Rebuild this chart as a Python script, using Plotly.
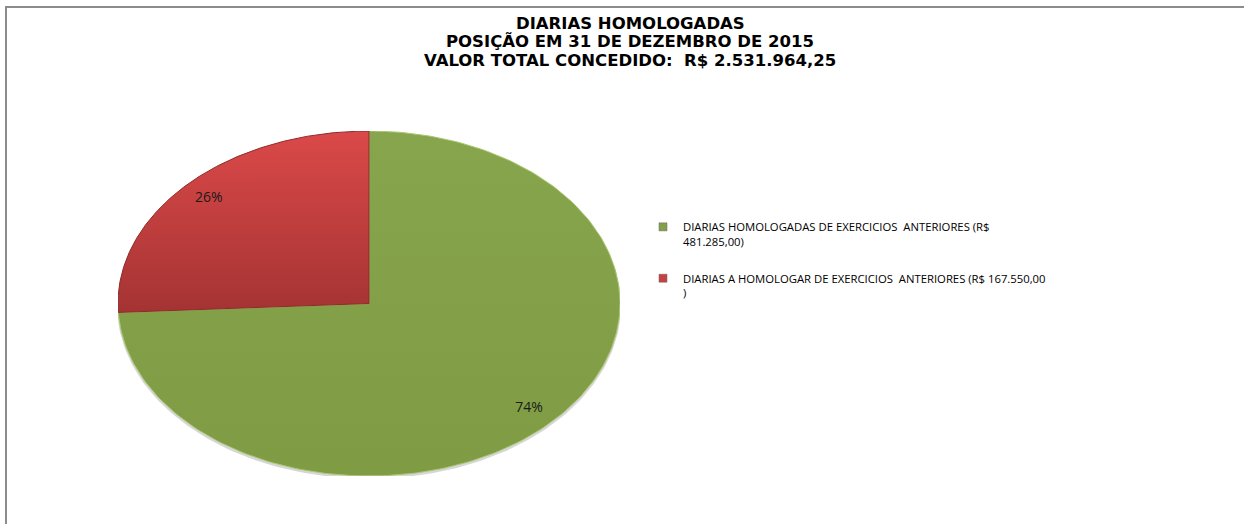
import numpy as np
import plotly.graph_objects as go

# ---- data ----
legend_labels = [
    "DIARIAS HOMOLOGADAS DE EXERCICIOS  ANTERIORES (R$<br>481.285,00)",
    "DIARIAS A HOMOLOGAR DE EXERCICIOS  ANTERIORES (R$ 167.550,00<br>)",
]
values = [481285.00, 167550.00]
colors = ["#83A149", "#C94040"]
gradients = [
    [[0, "#7F9C44"], [1, "#87A54C"]],
    [[0, "#A53333"], [1, "#DB4949"]],
]
edge_colors = ["#A9C871", "#8E2B2A"]
title_lines = [
    "DIARIAS HOMOLOGADAS",
    "POSIÇÃO EM 31 DE DEZEMBRO DE 2015",
    "VALOR TOTAL CONCEDIDO:  R$ 2.531.964,25",
]

W, H = 1244, 524
fig = go.Figure()

total = float(sum(values))
fracs = [v / total for v in values]
cum = np.concatenate([[0.0], np.cumsum(fracs)])

# soft shadow under the pie
ths = np.linspace(0, 2 * np.pi, 300)
fig.add_trace(go.Scatter(
    x=1.004 * np.cos(ths), y=1.004 * np.sin(ths) - 0.012, mode="lines", fill="toself",
    fillcolor="rgba(0,0,0,0.16)", line=dict(width=0), showlegend=False, hoverinfo="skip",
))

# slices drawn on a unit circle; axis scaling produces the elliptical look
for i, v in enumerate(values):
    t0 = np.deg2rad(90 - 360 * cum[i])
    t1 = np.deg2rad(90 - 360 * cum[i + 1])
    th = np.linspace(t0, t1, 200)
    xs = np.concatenate([[0], np.cos(th), [0]])
    ys = np.concatenate([[0], np.sin(th), [0]])
    fig.add_trace(go.Scatter(
        x=xs, y=ys, mode="lines", fill="toself",
        fillcolor=colors[i],
        fillgradient=dict(type="vertical", colorscale=gradients[i]),
        line=dict(color=edge_colors[i], width=1),
        showlegend=False, hoverinfo="skip",
    ))

# percentage labels
for i, v in enumerate(values):
    mid = np.deg2rad(90 - 360 * (cum[i] + cum[i + 1]) / 2)
    r = 0.88
    fig.add_trace(go.Scatter(
        x=[r * np.cos(mid)], y=[r * np.sin(mid)], mode="text",
        text=[f"{round(fracs[i] * 100)}%"],
        textfont=dict(family="Open Sans", size=14, color="#1a1a1a"),
        showlegend=False, hoverinfo="skip",
    ))

# legend entries
for i, lab in enumerate(legend_labels):
    fig.add_trace(go.Scatter(
        x=[None], y=[None], mode="markers", name=lab,
        marker=dict(symbol="square", size=8, color=colors[i],
                    line=dict(color="#666666", width=0.5)),
        legendgroup=f"g{i}",
    ))

# title lines
for k, (txt, py) in enumerate(zip(title_lines, [24, 42, 60.5])):
    fig.add_annotation(
        x=630 / W, y=1 - py / H, xref="paper", yref="paper",
        text=f"<b>{txt}</b>", showarrow=False,
        xanchor="center", yanchor="middle",
        font=dict(family="DejaVu Sans", size=16.5, color="#000000"),
    )

# chart frame
fig.add_shape(type="rect", xref="paper", yref="paper",
              x0=6 / W, x1=1.02, y0=-0.05, y1=1 - 7 / H,
              line=dict(color="#8C8C8C", width=2), fillcolor="rgba(0,0,0,0)")

fig.update_layout(
    width=W, height=H,
    margin=dict(l=0, r=0, t=0, b=0),
    paper_bgcolor="white", plot_bgcolor="white",
    xaxis=dict(domain=[118 / W, 620 / W], range=[-1, 1], visible=False, fixedrange=True),
    yaxis=dict(domain=[48 / H, 393 / H], range=[-1, 1], visible=False, fixedrange=True),
    legend=dict(
        x=643 / W, y=1 - 213 / H, xanchor="left", yanchor="top",
        font=dict(family="Open Sans", size=11.3, color="#000000"),
        valign="top", itemwidth=30, tracegroupgap=19,
        bgcolor="rgba(0,0,0,0)",
    ),
    showlegend=True,
)

fig.write_html("out.html", config={"displayModeBar": False},
               post_script="document.body.style.margin='0';")
